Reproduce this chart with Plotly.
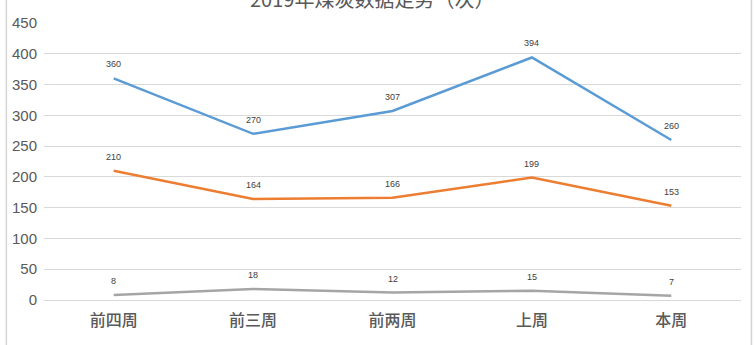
import plotly.graph_objects as go

weeks = ["前四周", "前三周", "前两周", "上周", "本周"]
series_a = [360, 270, 307, 394, 260]
series_b = [210, 164, 166, 199, 153]
series_c = [8, 18, 12, 15, 7]
y_ticks = [0, 50, 100, 150, 200, 250, 300, 350, 400, 450]
title_text = "2019年煤炭数据走势（次）"

colors = ["#5B9BD5", "#ED7D31", "#A5A5A5"]

fig = go.Figure()
for vals, col in zip([series_a, series_b, series_c], colors):
    fig.add_trace(go.Scatter(
        x=weeks, y=vals, mode="lines",
        line=dict(color=col, width=2.5),
        showlegend=False,
    ))
    # value labels above each point
    for w, v in zip(weeks, vals):
        fig.add_annotation(
            x=w, y=v, text=str(v), showarrow=False, yshift=14,
            font=dict(size=9, color="#404040", family="Liberation Sans, Arial"),
        )

fig.add_annotation(
    text=title_text, xref="paper", yref="paper", x=0.47, y=1.0,
    yanchor="bottom", yshift=8, showarrow=False,
    font=dict(size=20, color="#595959", family="Noto Sans CJK SC"),
)

# chart frame
for xv in (-0.054, 1.015):
    fig.add_shape(type="line", xref="paper", yref="paper",
                  x0=xv, x1=xv, y0=-0.2, y1=1.2,
                  line=dict(color="#D4D4D4", width=1.5))

fig.update_layout(
    width=755, height=345,
    margin=dict(l=42, r=14, t=23, b=45),
    paper_bgcolor="white", plot_bgcolor="white",
    xaxis=dict(
        type="category", range=[-0.5, 4.5], showgrid=False, showline=False,
        ticks="", ticklabelstandoff=9,
        tickfont=dict(size=16, color="#595959", family="Noto Sans CJK SC", weight=500),
    ),
    yaxis=dict(
        range=[0, 450], tickvals=y_ticks, showgrid=True, gridcolor="#D9D9D9",
        gridwidth=1, zeroline=True, zerolinecolor="#D9D9D9", zerolinewidth=1,
        showline=False, ticks="", ticklabelstandoff=6,
        tickfont=dict(size=15, color="#595959", family="Liberation Sans, Arial"),
    ),
)

fig.write_html("out.html")
